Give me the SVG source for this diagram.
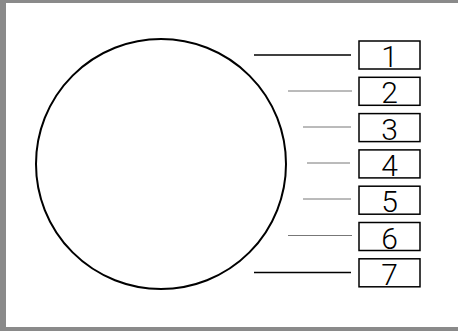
<svg xmlns="http://www.w3.org/2000/svg" width="458" height="331" viewBox="0 0 458 331">
<style>
.box{fill:#fff;stroke:#000;stroke-width:1.5}
.lbl{font-family:Roboto,"Liberation Sans",sans-serif;font-weight:300;font-size:30px;fill:#000;text-anchor:middle}
.lk{stroke:#000;stroke-width:1.5}
.lg{stroke:#777;stroke-width:1}
</style>
<rect x="0" y="0" width="458" height="331" fill="#8a8a8a"/>
<rect x="6" y="3" width="452" height="324" fill="#fff"/>
<g id="circle"><circle cx="161" cy="164" r="125" fill="none" stroke="#000" stroke-width="2"/></g>
<g id="connectors">
<line class="lk" x1="254" y1="55" x2="351" y2="55"/>
<line class="lg" x1="288" y1="91" x2="352" y2="91"/>
<line class="lg" x1="303" y1="127" x2="351" y2="127"/>
<line class="lg" x1="307" y1="163" x2="350" y2="163"/>
<line class="lg" x1="303" y1="199" x2="351" y2="199"/>
<line class="lg" x1="288" y1="235.5" x2="352" y2="235.5"/>
<line class="lk" x1="254" y1="272.5" x2="351" y2="272.5"/>
</g>
<g id="n1"><rect class="box" x="359" y="41" width="61" height="28"/><text class="lbl" x="389.5" y="67">1</text></g>
<g id="n2"><rect class="box" x="359" y="77.3" width="61" height="28"/><text class="lbl" x="389.5" y="103.3">2</text></g>
<g id="n3"><rect class="box" x="359" y="113.6" width="61" height="28"/><text class="lbl" x="389.5" y="139.6">3</text></g>
<g id="n4"><rect class="box" x="359" y="149.9" width="61" height="28"/><text class="lbl" x="389.5" y="175.9">4</text></g>
<g id="n5"><rect class="box" x="359" y="186.2" width="61" height="28"/><text class="lbl" x="389.5" y="212.2">5</text></g>
<g id="n6"><rect class="box" x="359" y="222.5" width="61" height="28"/><text class="lbl" x="389.5" y="248.5">6</text></g>
<g id="n7"><rect class="box" x="359" y="258.8" width="61" height="28"/><text class="lbl" x="389.5" y="284.8">7</text></g>
</svg>
